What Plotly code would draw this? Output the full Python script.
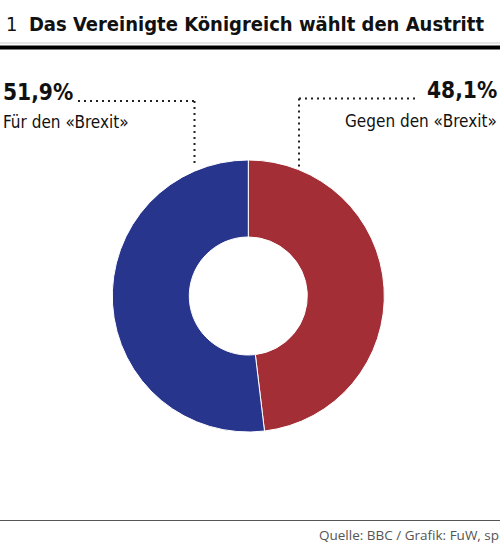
import plotly.graph_objects as go

labels = ["Gegen den «Brexit»", "Für den «Brexit»"]
values = [48.1, 51.9]
colors = ["#a32e36", "#28358c"]
value_texts = ["48,1%", "51,9%"]

W, H = 500, 545
FONT = "DejaVu Sans Condensed, Roboto, sans-serif"

def px(x):
    return x / W

def py(y):
    return 1 - y / H

cx, cy, R = 248.3, 296, 136

fig = go.Figure(go.Pie(
    labels=labels,
    values=values,
    hole=0.434,
    sort=False,
    direction="clockwise",
    rotation=0,
    marker=dict(colors=colors, line=dict(color="white", width=1)),
    textinfo="none",
    hoverinfo="label+value",
    showlegend=False,
    domain=dict(x=[px(cx - R), px(cx + R)], y=[py(cy + R), py(cy - R)]),
))

ann = []
ann.append(dict(x=px(4), y=py(38), xref="paper", yref="paper", xanchor="left", yanchor="bottom",
                text="1\u00a0\u00a0<b>Das Vereinigte Königreich wählt den Austritt</b>",
                showarrow=False, font=dict(family=FONT, size=20, color="#111111")))
# left (Für)
ann.append(dict(x=px(1), y=py(107), xref="paper", yref="paper", xanchor="left", yanchor="bottom",
                text="<b>" + value_texts[1] + "</b>", showarrow=False,
                font=dict(family=FONT, size=22.5, color="#111111")))
ann.append(dict(x=px(1), y=py(134), xref="paper", yref="paper", xanchor="left", yanchor="bottom",
                text=labels[1], showarrow=False,
                font=dict(family=FONT, size=17, color="#111111")))
# right (Gegen)
ann.append(dict(x=px(499), y=py(105), xref="paper", yref="paper", xanchor="right", yanchor="bottom",
                text="<b>" + value_texts[0] + "</b>", showarrow=False,
                font=dict(family=FONT, size=22.5, color="#111111")))
ann.append(dict(x=px(499), y=py(133), xref="paper", yref="paper", xanchor="right", yanchor="bottom",
                text=labels[0], showarrow=False,
                font=dict(family=FONT, size=17, color="#111111")))
ann.append(dict(x=px(501), y=py(546), xref="paper", yref="paper", xanchor="right", yanchor="bottom",
                text="Quelle: BBC / Grafik: FuW, sp", showarrow=False,
                font=dict(family="Open Sans", size=13.5, color="#555555")))

dot = dict(color="#222222", width=2, dash="2px,4px")
shapes = [
    dict(type="line", xref="paper", yref="paper", x0=0, x1=1, y0=py(43), y1=py(43),
         line=dict(color="#cccccc", width=1)),
    dict(type="line", xref="paper", yref="paper", x0=0, x1=1, y0=py(47.5), y1=py(47.5),
         line=dict(color="#000000", width=4)),
    dict(type="line", xref="paper", yref="paper", x0=0, x1=1, y0=py(520.5), y1=py(520.5),
         line=dict(color="#555555", width=1)),
    dict(type="line", xref="paper", yref="paper", x0=px(78), x1=px(194.5), y0=py(101), y1=py(101), line=dot),
    dict(type="line", xref="paper", yref="paper", x0=px(194.5), x1=px(194.5), y0=py(101), y1=py(167), line=dot),
    dict(type="line", xref="paper", yref="paper", x0=px(299), x1=px(418), y0=py(98.5), y1=py(98.5), line=dot),
    dict(type="line", xref="paper", yref="paper", x0=px(299), x1=px(299), y0=py(98.5), y1=py(169), line=dot),
]

fig.update_layout(
    width=W, height=H,
    margin=dict(l=0, r=0, t=0, b=0),
    paper_bgcolor="white", plot_bgcolor="white",
    annotations=ann, shapes=shapes,
)

fig.write_html("out.html", config={"displayModeBar": False},
               post_script="document.body.style.margin='0';document.body.style.overflow='hidden';")
